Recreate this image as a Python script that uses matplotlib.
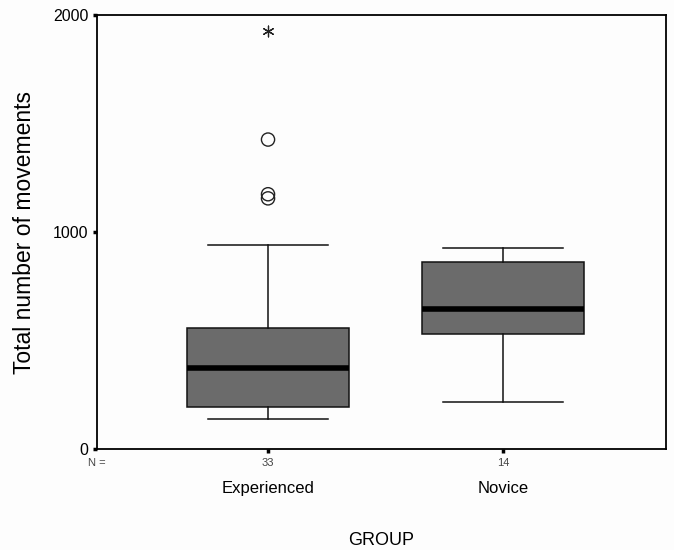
import numpy as np
import matplotlib
matplotlib.use("Agg")
import matplotlib.pyplot as plt

plt.rcParams["font.family"] = ["Liberation Sans", "DejaVu Sans"]

GREY = "#6b6b6b"

groups     = ["Experienced", "Novice"]
n_counts   = [33, 14]
whisk_lo   = [136, 216]
q1         = [195, 532]
medians    = [373, 644]
q3         = [558, 862]
whisk_hi   = [941, 927]
outliers   = [1426, 1174, 1155]   # Experienced, circles
extremes   = [1926]               # Experienced, star

fig = plt.figure(figsize=(6.74, 5.5), dpi=100)
fig.patch.set_facecolor("#fdfdfd")
ax = fig.add_axes([97 / 674, 1 - 449 / 550, 569 / 674, 434 / 550])
ax.set_facecolor("#fdfdfd")

stats = []
for i, g in enumerate(groups):
    stats.append(dict(label=g, whislo=whisk_lo[i], q1=q1[i], med=medians[i],
                      q3=q3[i], whishi=whisk_hi[i], fliers=[]))

pos = np.arange(1, len(groups) + 1)
ax.bxp(stats, positions=pos, widths=0.69, patch_artist=True, showfliers=False,
       boxprops=dict(facecolor=GREY, edgecolor="#111111", linewidth=1.1),
       medianprops=dict(color="black", linewidth=4),
       whiskerprops=dict(color="#111111", linewidth=1.1),
       capprops=dict(color="#111111", linewidth=1.1), capwidths=0.51)

ax.scatter([pos[0]] * len(outliers), outliers, s=90, facecolor="none",
           edgecolor="#222222", linewidth=1.0, zorder=4)
ax.scatter([pos[0]] * len(extremes), extremes, s=60, marker=(6, 2, 0),
           color="#222222", linewidth=0.9, zorder=4)

ax.set_xlim(0.272, 2.694)
ax.set_ylim(0, 2000)
ax.set_yticks([0, 1000, 2000])
ax.tick_params(axis="y", labelsize=11.5, length=3, width=2.5, pad=3)
ax.set_xticks(pos)
ax.set_xticklabels(groups, fontsize=12)
ax.tick_params(axis="x", length=3, width=2.5, pad=20)
for sp in ax.spines.values():
    sp.set_linewidth(1.3)

trans = ax.get_xaxis_transform()
for p, n in zip(pos, n_counts):
    ax.text(p, -0.032, str(n), transform=trans, ha="center", va="center",
            fontsize=8, color="#444444")
ax.text(0.0, -0.032, "N =", transform=ax.transAxes, ha="center", va="center",
        fontsize=8, color="#444444")

ax.set_ylabel("Total number of movements", fontsize=16.5, labelpad=12)
ax.set_xlabel("GROUP", fontsize=13, labelpad=26)

plt.savefig("out.png", dpi=100, facecolor=fig.get_facecolor())
plt.close()
